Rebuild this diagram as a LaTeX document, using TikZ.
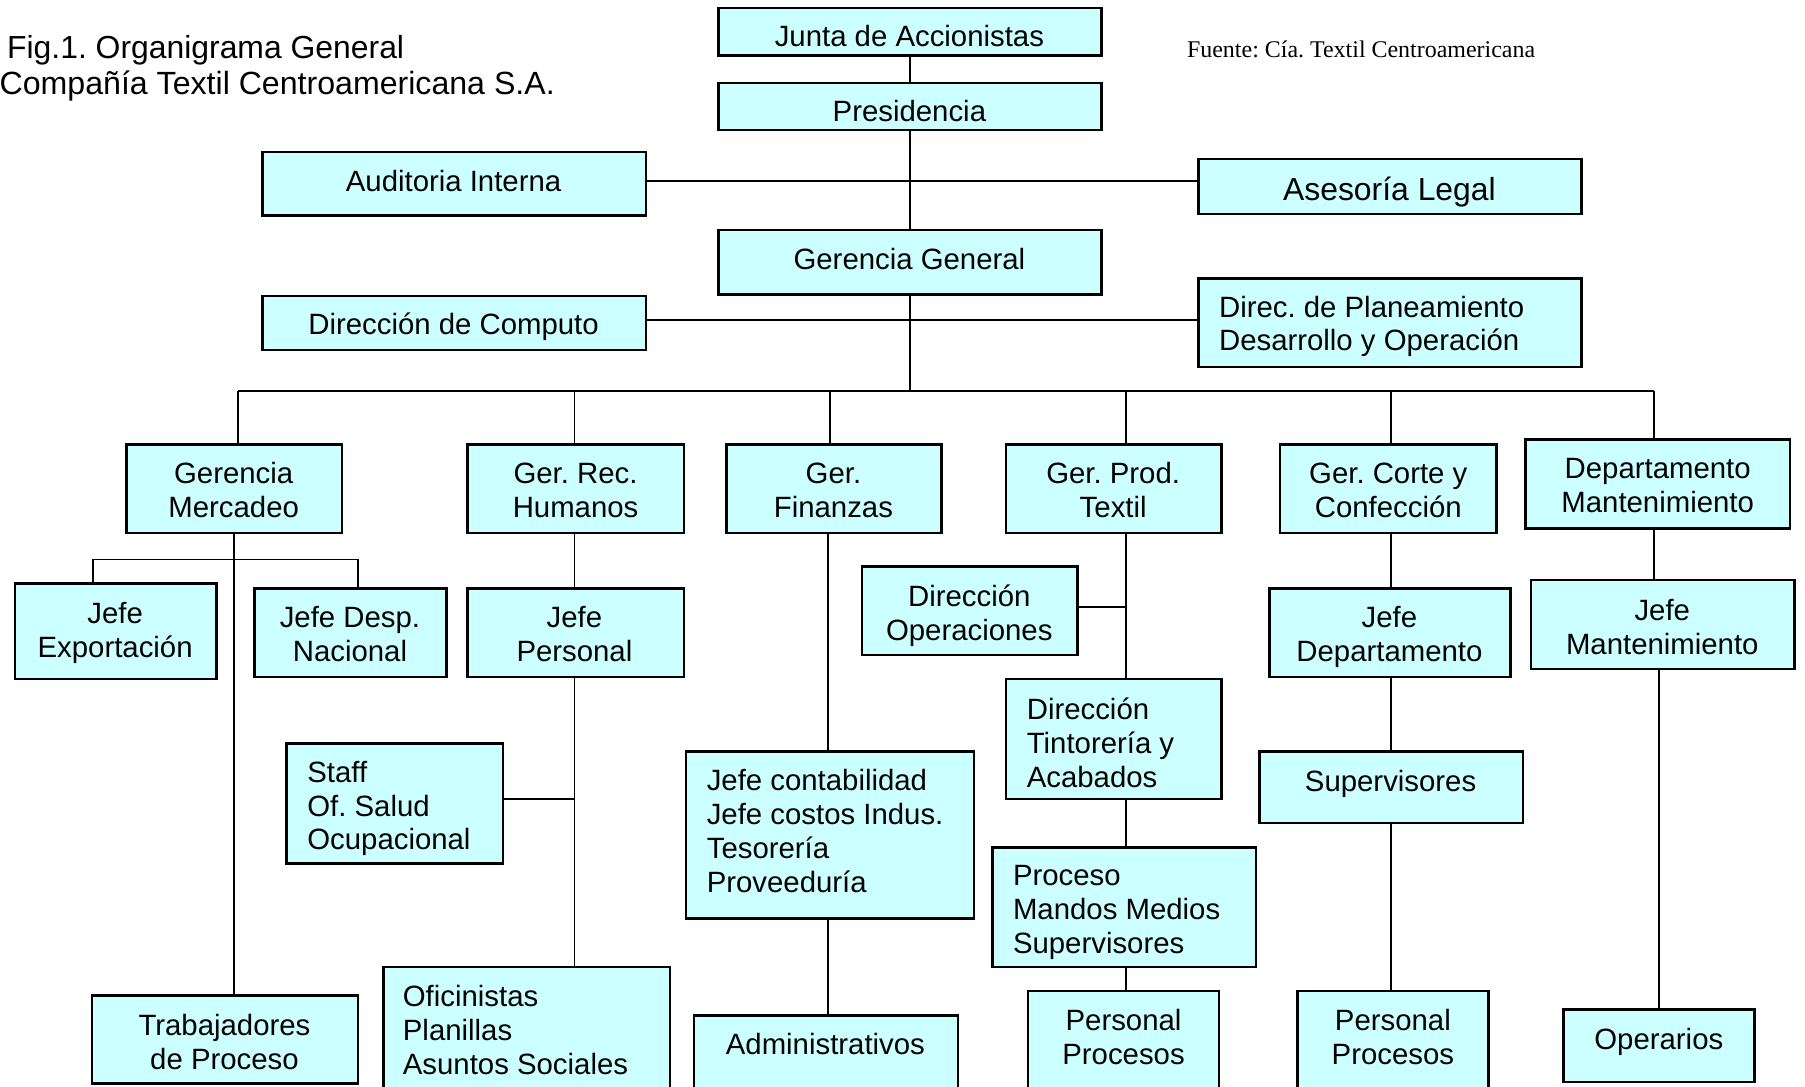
\documentclass[tikz,border=0pt]{standalone}
\usepackage{fontspec}
\setmainfont{Liberation Sans}
\newfontfamily\srcfont{Liberation Serif}
\frenchspacing
\definecolor{boxfill}{RGB}{204,255,255}
\tikzset{
  box/.style={draw=black, line width=2.2pt, fill=boxfill, inner sep=0pt, outer sep=0pt},
  txt/.style={inner sep=0pt, outer sep=0pt, font=\fontsize{25.5}{29.5}\selectfont},
  wire/.style={draw=black, line width=1.6pt},
}
% box from (x1,y1) to (x2,y2)
\newcommand\bx[5]{\node[box, minimum width={#4-#2}, minimum height={#5-#3}] (#1) at ({(#2+#4)/2},{(#3+#5)/2}) {};}
% centred text, first line centred on y
\newcommand\ctx[4]{\node[txt, anchor=north, align=center] (#1) at (#2,{#3-9.1}) {#4};}
% left aligned text, first line centred on y
\newcommand\ltx[4]{\node[txt, anchor=north west, align=left] (#1) at (#2,{#3-9.1}) {#4};}
\begin{document}
\begin{tikzpicture}[x=1pt,y=-1pt]
\clip (0,0) rectangle (1568,944);
\fill[white] (0,0) rectangle (1568,944);

% title and source
\node[inner sep=0pt, anchor=base west, font=\fontsize{27.7}{32}\selectfont] (title1) at (6,50.5) {Fig.1. Organigrama General};
\node[inner sep=0pt, anchor=base west, font=\fontsize{27.9}{32}\selectfont] (title2) at (-0.5,82) {Compañía Textil Centroamericana S.A.};
\node[inner sep=0pt, anchor=base west, font=\srcfont\fontsize{20.8}{24}\selectfont] (fuente) at (1031,50) {Fuente: Cía. Textil Centroamericana};

% boxes
\bx{junta}{624}{7}{957}{48}
\bx{pres}{624}{72}{957}{113}
\bx{aud}{228}{132}{561}{187}
\bx{ase}{1041}{138}{1374}{186}
\bx{gg}{624}{200}{957}{256}
\bx{comp}{228}{257}{561}{304}
\bx{plan}{1041}{242}{1374}{319}
\bx{gm}{110}{386}{297}{463}
\bx{rh}{406}{386}{594}{463}
\bx{fin}{631}{386}{818}{463}
\bx{prod}{874}{386}{1061}{463}
\bx{corte}{1112}{386}{1300}{463}
\bx{mant}{1325}{382}{1555}{459}
\bx{jexp}{13}{507}{188}{590}
\bx{jdesp}{221}{511}{388}{588}
\bx{jper}{406}{511}{594}{588}
\bx{staff}{249}{646}{437}{750}
\bx{trab}{80}{865}{311}{941}
\bx{ofi}{333}{840}{582}{960}
\bx{jcont}{596}{653}{846}{798}
\bx{adm}{603}{882}{832}{960}
\bx{dirop}{749}{492}{936}{569}
\bx{tint}{874}{590}{1061}{694}
\bx{proc}{862}{736}{1091}{840}
\bx{pp1}{893}{861}{1059}{960}
\bx{jdep}{1103}{511}{1312}{588}
\bx{sup}{1094}{653}{1323}{715}
\bx{pp2}{1127}{861}{1293}{960}
\bx{jman}{1330}{504}{1559}{581}
\bx{oper}{1358}{877}{1524}{940}

% connector guides
\coordinate (hA) at (0,157);
\coordinate (hB) at (0,278);
\coordinate (bus) at (791,340);
\coordinate (d1) at (207,340);
\coordinate (d2) at (499,340);
\coordinate (d3) at (721,340);
\coordinate (d4) at (978,340);
\coordinate (d5) at (1208,340);
\coordinate (d6) at (1437,340);
\coordinate (mL) at (81,486);
\coordinate (mR) at (311,486);
\coordinate (cR) at (499,0);
\coordinate (sY) at (0,694);
\coordinate (cF) at (719,0);
\coordinate (cP) at (978,0);
\coordinate (oY) at (0,527);
\coordinate (cC) at (1208,0);
\coordinate (cM) at (1437,0);
\coordinate (cM2) at (1441,0);

% top of the chart
\draw[wire] (junta.south) -- (pres.north);
\draw[wire] (pres.south) -- (gg.north);
\draw[wire] (aud.east |- hA) -- (ase.west |- hA);
\draw[wire] (comp.east |- hB) -- (plan.west |- hB);
\draw[wire] (gg.south) -- (gg.south |- bus);
\draw[wire] (d1) -- (d6);
\draw[wire] (d1) -- (d1 |- gm.north);
\draw[wire] (d2) -- (d2 |- rh.north);
\draw[wire] (d3) -- (d3 |- fin.north);
\draw[wire] (d4) -- (d4 |- prod.north);
\draw[wire] (d5) -- (d5 |- corte.north);
\draw[wire] (d6) -- (d6 |- mant.north);

% Mercadeo
\draw[wire] (gm.south) -- (gm.south |- trab.north);
\draw[wire] (mL |- jexp.north) -- (mL) -- (mR) -- (mR |- jdesp.north);
% Recursos Humanos
\draw[wire] (rh.south -| cR) -- (jper.north -| cR);
\draw[wire] (jper.south -| cR) -- (ofi.north -| cR);
\draw[wire] (staff.east |- sY) -- (cR |- sY);
% Finanzas
\draw[wire] (fin.south -| cF) -- (jcont.north -| cF);
\draw[wire] (jcont.south -| cF) -- (adm.north -| cF);
% Produccion Textil
\draw[wire] (prod.south -| cP) -- (tint.north -| cP);
\draw[wire] (dirop.east |- oY) -- (cP |- oY);
\draw[wire] (tint.south -| cP) -- (proc.north -| cP);
\draw[wire] (proc.south -| cP) -- (pp1.north -| cP);
% Corte y Confeccion
\draw[wire] (corte.south -| cC) -- (jdep.north -| cC);
\draw[wire] (jdep.south -| cC) -- (sup.north -| cC);
\draw[wire] (sup.south -| cC) -- (pp2.north -| cC);
% Mantenimiento
\draw[wire] (mant.south -| cM) -- (jman.north -| cM);
\draw[wire] (jman.south -| cM2) -- (oper.north -| cM2);

% texts
\ctx{junta-t}{790}{31}{Junta de Accionistas}
\ctx{pres-t}{790}{96}{Presidencia}
\ctx{aud-t}{394}{157}{Auditoria Interna}
\node[inner sep=0pt, anchor=base, font=\fontsize{27.7}{32}\selectfont] (ase-t) at (1207,173.9) {Asesoría Legal};
\ctx{gg-t}{790}{225}{Gerencia General}
\ctx{comp-t}{394}{281}{Dirección de Computo}
\ltx{plan-t}{1059}{266}{Direc. de Planeamiento\\Desarrollo y Operación}
\ctx{gm-t}{203}{411}{Gerencia\\Mercadeo}
\ctx{rh-t}{500}{411}{Ger. Rec.\\Humanos}
\ctx{fin-t}{724}{411}{Ger.\\Finanzas}
\ctx{prod-t}{967}{411}{Ger. Prod.\\Textil}
\ctx{corte-t}{1206}{411}{Ger. Corte y\\Confección}
\ctx{mant-t}{1440}{407}{Departamento\\Mantenimiento}
\ctx{jexp-t}{100}{532}{Jefe\\Exportación}
\ctx{jdesp-t}{304}{536}{Jefe Desp.\\Nacional}
\ctx{jper-t}{499}{536}{Jefe\\Personal}
\ltx{staff-t}{267}{670}{Staff\\Of. Salud\\Ocupacional}
\ctx{trab-t}{195}{890}{Trabajadores\\de Proceso}
\ltx{ofi-t}{350}{865}{Oficinistas\\Planillas\\Asuntos Sociales}
\ltx{jcont-t}{614}{677}{Jefe contabilidad\\Jefe costos Indus.\\Tesorería\\Proveeduría}
\ctx{adm-t}{717}{907}{Administrativos}
\ctx{dirop-t}{842}{517}{Dirección\\Operaciones}
\ltx{tint-t}{892}{615}{Dirección\\Tintorería y\\Acabados}
\ltx{proc-t}{880}{761}{Proceso\\Mandos Medios\\Supervisores}
\ctx{pp1-t}{976}{886}{Personal\\Procesos}
\ctx{jdep-t}{1207}{536}{Jefe\\Departamento}
\ctx{sup-t}{1208}{678}{Supervisores}
\ctx{pp2-t}{1210}{886}{Personal\\Procesos}
\ctx{jman-t}{1444}{530}{Jefe\\Mantenimiento}
\ctx{oper-t}{1441}{902}{Operarios}
\end{tikzpicture}
\end{document}
